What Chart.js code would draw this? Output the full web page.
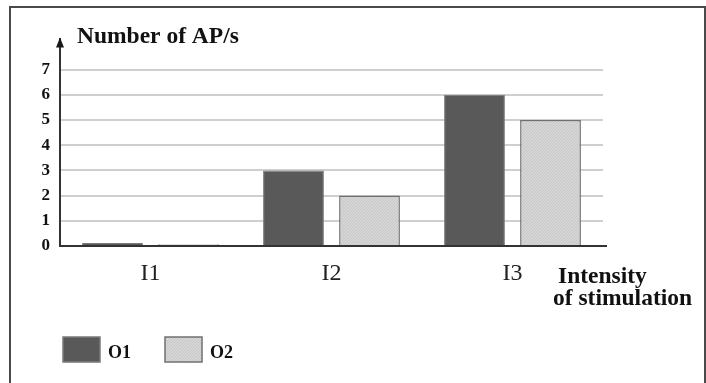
<!DOCTYPE html>
<html><head><meta charset="utf-8">
<script src="https://cdn.jsdelivr.net/npm/chart.js@4.4.1/dist/chart.umd.min.js"></script>
<style>
html,body{margin:0;padding:0;background:#fff;width:706px;height:383px;overflow:hidden}
#wrap{position:relative;width:706px;height:383px}
canvas{position:absolute;left:0;top:0}
#frame{position:absolute;left:9px;top:6px;width:693px;height:420px;border:2px solid #4a4a4a;pointer-events:none}
</style></head><body>
<div id="wrap"><canvas id="c" width="706" height="383"></canvas><div id="frame"></div></div>
<script>
const categories = ['I1', 'I2', 'I3'];
const seriesNames = ['O1', 'O2'];
const o1Values = [0.12, 3, 6];
const o2Values = [0.07, 2, 5];
const yTickValues = [0, 1, 2, 3, 4, 5, 6, 7];
const yAxisTitle = 'Number of AP/s';
const xAxisTitleLines = ['Intensity', 'of stimulation'];

// dotted light pattern for O2
function makePattern() {
  const p = document.createElement('canvas');
  p.width = 3; p.height = 3;
  const g = p.getContext('2d');
  g.fillStyle = '#d6d6d6'; g.fillRect(0, 0, 3, 3);
  g.fillStyle = '#c6c6c6'; g.fillRect(0, 0, 1, 1); g.fillRect(1, 2, 1, 1); g.fillRect(2, 1, 1, 1);
  return g.createPattern(p, 'repeat');
}
const ctx0 = document.getElementById('c').getContext('2d');
const lightFill = makePattern();

const decor = {
  id: 'decor',
  afterDraw(chart) {
    const ctx = chart.ctx, a = chart.chartArea;
    ctx.save();
    // x axis line extension
    ctx.strokeStyle = '#333'; ctx.lineWidth = 2;
    ctx.beginPath(); ctx.moveTo(a.left - 1, a.bottom); ctx.lineTo(a.right + 4, a.bottom); ctx.stroke();
    // arrow head on y axis
    ctx.fillStyle = '#1a1a1a';
    ctx.beginPath();
    ctx.moveTo(a.left, a.top - 2);
    ctx.lineTo(a.left - 4, a.top + 8);
    ctx.lineTo(a.left + 4, a.top + 8);
    ctx.closePath(); ctx.fill();
    // titles
    ctx.fillStyle = '#111';
    ctx.textAlign = 'left'; ctx.textBaseline = 'alphabetic';
    ctx.font = 'bold 23.5px "Liberation Serif"';
    ctx.fillText(yAxisTitle, 77, 43);
    ctx.font = 'bold 23.5px "Liberation Serif"';
    ctx.fillText(xAxisTitleLines[0], 558, 283);
    ctx.fillText(xAxisTitleLines[1], 553, 305);
    // legend
    ctx.font = 'bold 18px "Liberation Serif"';
    chart.data.datasets.forEach((ds, i) => {
      const bx = 63 + i * 102, by = 337;
      ctx.fillStyle = ds.backgroundColor;
      ctx.fillRect(bx, by, 37, 25);
      ctx.strokeStyle = ds.borderColor; ctx.lineWidth = 1.5;
      ctx.strokeRect(bx, by, 37, 25);
      ctx.fillStyle = '#111';
      ctx.fillText(ds.label, bx + 45, 358);
    });
    ctx.restore();
  }
};

new Chart(ctx0, {
  type: 'bar',
  data: {
    labels: categories,
    datasets: [
      { label: seriesNames[0], data: o1Values, backgroundColor: '#595959', borderColor: '#7a7a7a', borderWidth: 1 },
      { label: seriesNames[1], data: o2Values, backgroundColor: lightFill, borderColor: '#707070', borderWidth: 1.5 }
    ]
  },
  options: {
    responsive: false,
    animation: false,
    devicePixelRatio: 1,
    categoryPercentage: 0.84,
    barPercentage: 0.8,
    layout: { padding: { left: 0, top: 39.4, right: 103, bottom: 97 } },
    plugins: { legend: { display: false }, tooltip: { enabled: false }, title: { display: false } },
    scales: {
      x: {
        grid: { display: false, drawTicks: false },
        border: { display: true, color: '#333', width: 2 },
        ticks: { color: '#222', font: { family: 'Liberation Serif', size: 24 }, padding: 13 },
        afterFit: s => { s.height = 40; }
      },
      y: {
        min: 0, max: 8.2,
        grid: { color: '#cfcfcf', lineWidth: 2, drawTicks: false },
        border: { display: true, color: '#333', width: 2 },
        ticks: { stepSize: 1, color: '#111', padding: 10, font: { family: 'Liberation Serif', size: 17, weight: 'bold' } },
        afterBuildTicks: s => { s.ticks = yTickValues.map(v => ({ value: v })); },
        afterFit: s => { s.width = 60; }
      }
    }
  },
  plugins: [decor]
});
</script>
</body></html>
